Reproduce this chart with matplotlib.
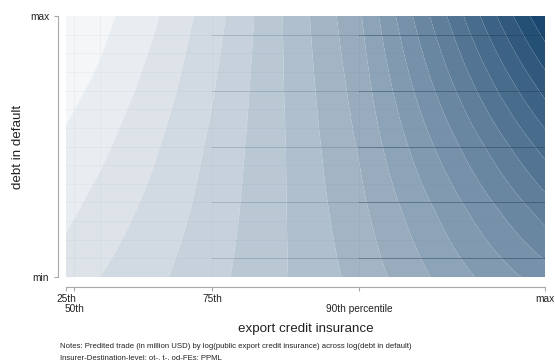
import numpy as np
import matplotlib
matplotlib.use("Agg")
import matplotlib.pyplot as plt
from matplotlib.colors import to_rgb

plt.rcParams['font.family'] = ['Liberation Sans', 'DejaVu Sans']

# Evaluation grid: log(public export credit insurance), normalised 25th pct .. max
eci_nodes = [0.0, 0.017, 0.071, 0.188, 0.305, 0.459, 0.612, 0.806, 1.0]
# log(debt in default), normalised min .. max
debt_nodes = [0.0, 0.25, 0.5, 0.75, 1.0]
# Predicted trade (contour-level units) at each node, one list per debt row
pred_debt_000 = [2.43, 2.57, 3.00, 3.80, 4.68, 5.96, 7.33, 9.50, 11.53]
pred_debt_025 = [1.80, 1.93, 2.38, 3.36, 4.42, 5.98, 7.71, 10.50, 13.40]
pred_debt_050 = [1.19, 1.33, 1.76, 2.91, 4.19, 6.00, 8.09, 11.70, 15.40]
pred_debt_075 = [0.60, 0.73, 1.17, 2.38, 3.88, 6.06, 8.45, 13.00, 17.60]
pred_debt_100 = [0.02, 0.17, 0.65, 1.91, 3.53, 6.11, 8.84, 14.30, 19.90]

# x ticks: first row and alternate (second) row of labels
x_tick_pos = [0.0, 0.305, 1.0]
x_tick_lab = ["25th", "75th", "max"]
x_tick_pos_alt = [0.017, 0.612]
x_tick_lab_alt = ["50th", "90th percentile"]
y_tick_pos = [0.0, 1.0]
y_tick_lab = ["min", "max"]

# polygon seam positions of the rendered surface
seam_x = [0.017, 0.071, 0.305, 0.612]
seam_y = list(np.linspace(0, 1, 15)[1:-1])

n_levels = 20
start_col = np.array([1.0, 1.0, 1.0])
end_col = np.array(to_rgb("#1a476f"))
band_colors = [tuple(start_col + (k + 1) / n_levels * (end_col - start_col))
               for k in range(n_levels)]

# bilinear interpolation of the node table onto a fine grid
rows = np.array([pred_debt_000, pred_debt_025, pred_debt_050,
                 pred_debt_075, pred_debt_100])
xf = np.linspace(0, 1, 700)
yf = np.linspace(0, 1, 450)
row_interp = np.array([np.interp(xf, eci_nodes, r) for r in rows])
Z = np.empty((yf.size, xf.size))
for j in range(xf.size):
    Z[:, j] = np.interp(yf, debt_nodes, row_interp[:, j])
X, Y = np.meshgrid(xf, yf)

fig = plt.figure(figsize=(5.55, 3.60), dpi=100)
ax = fig.add_axes([66 / 555, 1 - 277 / 360, (545 - 66) / 555, (277 - 16) / 360])
ax.contourf(X, Y, Z, levels=np.arange(0, n_levels + 1), colors=band_colors,
            antialiased=True)

for k, yv in enumerate(seam_y[::-1], start=1):
    if k % 3 == 1:
        ax.plot([0.0, seam_x[2]], [yv, yv], color="#50657a", alpha=0.06, lw=0.6)
        ax.plot([seam_x[2], seam_x[3]], [yv, yv], color="#2e4a66", alpha=0.22, lw=0.7)
        ax.plot([seam_x[3], 1.0], [yv, yv], color="#1f3a55", alpha=0.45, lw=0.7)
    else:
        ax.plot([0.0, 1.0], [yv, yv], color="#50657a", alpha=0.05, lw=0.6)
for xv in seam_x:
    ax.plot([xv, xv], [0, 1], color="#50657a", alpha=0.05, lw=0.6)

ax.set_xlim(0, 1)
ax.set_ylim(0, 1)

for s in ["top", "right"]:
    ax.spines[s].set_visible(False)
ax.spines["left"].set_position(("outward", 6))
ax.spines["bottom"].set_position(("outward", 7.2))
for s in ["left", "bottom"]:
    ax.spines[s].set_color("#a8a8a8")
    ax.spines[s].set_linewidth(0.8)

ax.set_xticks(x_tick_pos)
ax.set_xticklabels(x_tick_lab, fontsize=7.3)
ax.set_xticks(x_tick_pos_alt, minor=True)
ax.set_xticklabels(x_tick_lab_alt, minor=True, fontsize=7.3)
ax.set_yticks(y_tick_pos)
ax.set_yticklabels(y_tick_lab, fontsize=7.3)
ax.tick_params(axis="both", which="both", colors="#a8a8a8", length=3.2,
               width=0.8, labelcolor="#222222")
ax.tick_params(axis="x", which="major", pad=1.5)
ax.tick_params(axis="x", which="minor", pad=9.0)
ax.tick_params(axis="y", pad=3)

ax.set_xlabel("export credit insurance", fontsize=9.6, color="#222222", labelpad=7)
ax.xaxis.set_label_coords(0.5, -0.177)
ax.set_ylabel("debt in default", fontsize=9.6, color="#222222")
ax.yaxis.set_label_coords(-0.088, 0.5)

fig.text(60 / 555, 1 - 347 / 360,
         "Notes: Predited trade (in million USD) by log(public export credit insurance) across log(debt in default)",
         fontsize=5.55, color="#222222", va="center", ha="left")
fig.text(60 / 555, 1 - 357.5 / 360,
         "Insurer-Destination-level; ot-, t-, od-FEs; PPML",
         fontsize=5.55, color="#222222", va="center", ha="left")

fig.savefig("out.png", dpi=100, facecolor="white")
